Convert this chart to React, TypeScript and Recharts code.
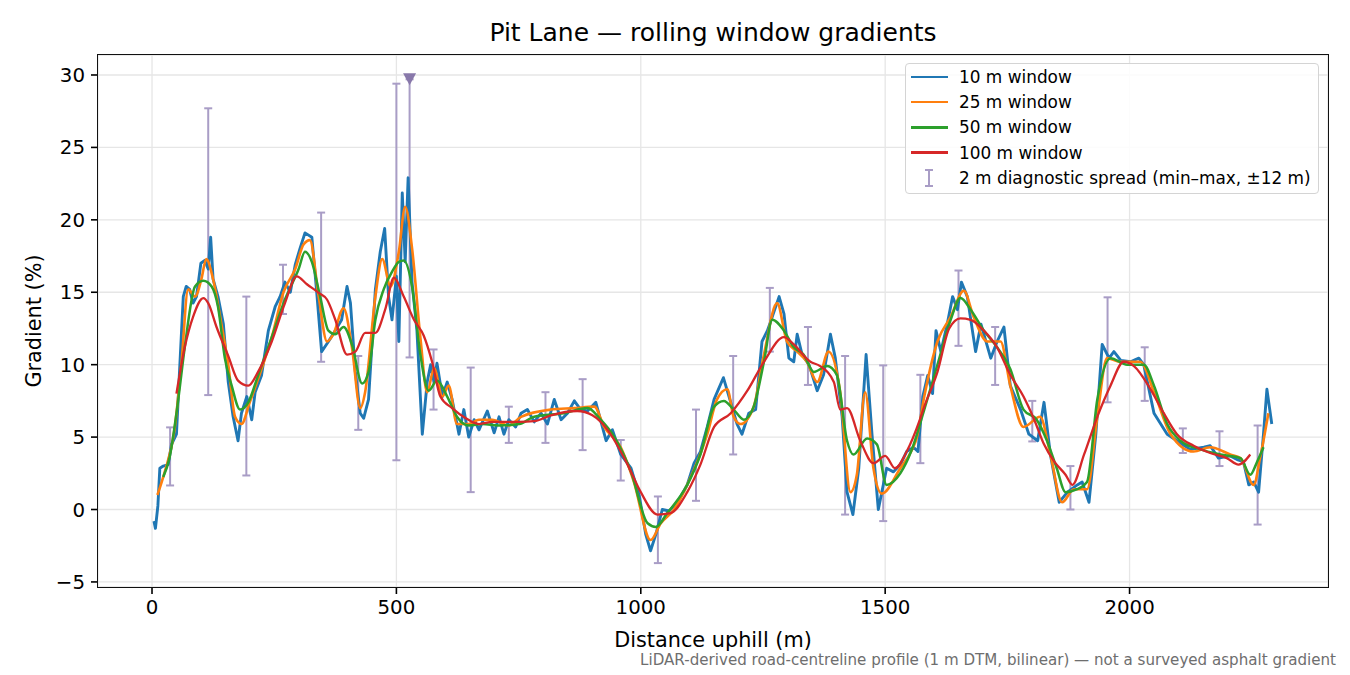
import React from 'react';
import { ComposedChart, Line, Scatter, ErrorBar, XAxis, YAxis, CartesianGrid } from 'recharts';

// 10 m window (noisy)
const dist10 = [4, 7, 12, 16, 23, 33, 40, 50, 57, 64, 70, 77, 84, 91, 100, 108, 115, 120, 125, 135, 146, 156, 166, 176, 183, 194, 204, 211, 224, 238, 252, 262, 272, 283, 293, 303, 313, 327, 337, 347, 361, 375, 388, 399, 406, 416, 426, 433, 443, 457, 467, 476, 484, 491, 500, 505, 512, 518, 524, 532, 542, 553, 563, 570, 577, 583, 594, 604, 614, 628, 638, 648, 659, 669, 686, 700, 710, 720, 730, 744, 755, 768, 782, 796, 809, 823, 837, 850, 864, 877, 891, 908, 929, 942, 959, 980, 997, 1010, 1020, 1031, 1044, 1058, 1075, 1095, 1109, 1122, 1136, 1150, 1169, 1184, 1197, 1207, 1221, 1235, 1248, 1259, 1269, 1283, 1293, 1303, 1313, 1320, 1330, 1344, 1361, 1374, 1388, 1398, 1412, 1422, 1434, 1446, 1461, 1473, 1486, 1503, 1517, 1531, 1544, 1558, 1567, 1577, 1587, 1597, 1604, 1614, 1627, 1638, 1648, 1656, 1668, 1685, 1696, 1716, 1729, 1743, 1756, 1777, 1794, 1812, 1825, 1838, 1856, 1873, 1893, 1903, 1917, 1931, 1944, 1958, 1968, 1982, 2002, 2019, 2029, 2050, 2077, 2097, 2124, 2152, 2165, 2182, 2206, 2220, 2233, 2244, 2254, 2264, 2274, 2281, 2291];
const grad10 = [-0.8, -1.3, 0.25, 2.85, 3.0, 3.1, 4.5, 5.2, 10.0, 14.7, 15.4, 15.2, 14.25, 14.7, 17.0, 17.2, 16.6, 18.8, 15.9, 14.7, 12.8, 8.8, 6.4, 4.75, 6.65, 7.8, 6.2, 8.1, 9.25, 12.35, 14.0, 14.7, 15.7, 15.0, 16.9, 18.05, 19.1, 18.8, 15.0, 10.9, 11.6, 12.35, 13.1, 15.4, 14.25, 9.5, 6.65, 6.3, 7.6, 15.2, 17.8, 19.4, 14.7, 13.1, 16.1, 11.6, 21.85, 17.1, 22.9, 15.7, 12.35, 5.2, 8.8, 10.0, 8.8, 10.1, 7.8, 8.8, 7.6, 5.2, 6.9, 5.0, 6.2, 5.5, 6.8, 5.3, 6.4, 5.2, 6.2, 5.7, 6.65, 6.9, 6.05, 6.65, 5.9, 7.6, 6.2, 6.65, 7.5, 6.9, 6.8, 7.4, 4.75, 5.5, 3.8, 2.85, 0.95, -1.7, -2.85, -1.7, 0, -0.1, 0.5, 1.7, 3.2, 4.0, 5.7, 7.6, 9.1, 7.4, 5.9, 5.2, 6.65, 6.9, 11.6, 12.35, 13.3, 14.7, 13.5, 10.45, 10.2, 12.1, 10.7, 10.0, 8.2, 9.3, 12.1, 10.45, 6.4, 1.2, -0.35, 2.85, 10.7, 5.2, 0, 2.85, 2.6, 3.1, 4.0, 4.3, 4.0, 7.8, 9.25, 8.0, 12.35, 10.9, 12.8, 14.7, 13.8, 15.7, 14.7, 10.9, 12.8, 10.45, 11.6, 12.6, 8.55, 6.9, 5.2, 4.75, 7.4, 3.8, 0.5, 1.2, 1.7, 1.9, 0.5, 5.2, 11.4, 10.45, 10.9, 10.3, 10.2, 10.45, 10.0, 6.65, 5.2, 4.75, 4.15, 4.3, 4.4, 3.55, 3.7, 3.45, 3.3, 1.7, 1.9, 1.2, 5.2, 8.3, 5.9];

// 25 m window
const dist25 = [11, 26, 46, 60, 74, 88, 101, 111, 125, 142, 156, 170, 183, 200, 217, 245, 269, 293, 310, 323, 341, 358, 371, 392, 409, 426, 436, 457, 471, 488, 505, 518, 532, 549, 563, 577, 594, 607, 624, 648, 669, 696, 730, 755, 816, 864, 905, 925, 959, 986, 1020, 1041, 1068, 1095, 1136, 1156, 1177, 1190, 1204, 1231, 1252, 1279, 1299, 1320, 1340, 1361, 1384, 1408, 1429, 1442, 1459, 1476, 1493, 1531, 1553, 1565, 1580, 1607, 1634, 1661, 1681, 1709, 1736, 1756, 1783, 1817, 1838, 1862, 1886, 1913, 1934, 1954, 1982, 2022, 2050, 2084, 2131, 2165, 2206, 2227, 2254, 2267, 2284];
const grad25 = [1.0, 2.6, 5.5, 10.0, 15.2, 14.7, 15.9, 17.3, 15.9, 12.8, 10.0, 6.4, 5.9, 7.4, 9.0, 11.9, 15.0, 16.6, 18.3, 18.6, 14.7, 11.6, 12.1, 13.9, 11.2, 7.0, 8.1, 14.7, 17.3, 15.4, 17.8, 20.9, 18.05, 11.9, 8.1, 9.75, 7.8, 8.55, 5.9, 5.9, 6.2, 6.2, 5.8, 6.4, 6.9, 7.0, 7.1, 5.7, 4.3, 1.9, -2.1, -0.95, 0, 1.7, 5.2, 7.6, 8.3, 6.4, 5.9, 7.1, 10.7, 14.25, 11.6, 10.9, 10.2, 8.8, 10.9, 8.1, 1.2, 2.4, 8.1, 2.85, 1.1, 2.85, 4.0, 5.0, 7.8, 11.6, 13.3, 15.1, 13.3, 11.6, 11.6, 8.55, 5.7, 6.4, 3.8, 0.5, 1.4, 1.4, 6.4, 10.45, 10.2, 10.2, 8.1, 5.2, 4.0, 4.3, 3.8, 3.55, 1.7, 3.55, 6.65];

// 50 m window
const dist50 = [23, 36, 53, 67, 88, 105, 122, 135, 149, 163, 180, 197, 217, 245, 272, 300, 313, 327, 344, 361, 375, 392, 409, 430, 443, 457, 474, 491, 505, 515, 532, 549, 566, 583, 604, 624, 648, 676, 710, 751, 782, 843, 891, 918, 946, 980, 1014, 1031, 1054, 1095, 1122, 1150, 1170, 1190, 1211, 1231, 1252, 1269, 1293, 1313, 1333, 1354, 1381, 1401, 1422, 1435, 1463, 1483, 1503, 1531, 1553, 1580, 1607, 1634, 1654, 1675, 1702, 1729, 1756, 1783, 1810, 1831, 1851, 1869, 1893, 1913, 1934, 1961, 1995, 2029, 2050, 2077, 2104, 2145, 2186, 2227, 2247, 2261, 2274];
const grad50 = [2.25, 3.6, 7.4, 11.2, 15.4, 15.8, 15.4, 14.0, 10.45, 8.55, 6.9, 7.4, 9.25, 11.9, 14.5, 16.6, 17.8, 17.1, 14.7, 12.35, 12.1, 12.6, 11.4, 8.7, 9.5, 13.1, 15.2, 16.4, 17.1, 17.2, 15.4, 10.7, 8.2, 8.9, 7.8, 6.4, 5.8, 5.9, 5.8, 5.9, 6.4, 6.65, 7.0, 6.2, 5.0, 2.6, -0.95, -1.2, -0.25, 1.7, 3.8, 7.1, 7.5, 6.9, 6.2, 7.1, 10.2, 13.1, 12.35, 11.2, 10.7, 9.5, 9.9, 9.3, 4.75, 3.8, 4.9, 4.5, 1.7, 2.5, 4.0, 6.9, 10.0, 13.1, 14.6, 13.8, 12.35, 11.2, 9.7, 6.9, 6.2, 4.75, 2.85, 1.2, 1.4, 1.9, 7.6, 10.45, 10.0, 10.0, 8.55, 5.9, 4.75, 4.15, 3.8, 3.55, 2.4, 3.3, 4.3];

// 100 m window
const dist100 = [50, 67, 84, 105, 115, 132, 156, 176, 197, 217, 245, 272, 296, 317, 341, 358, 375, 399, 416, 436, 457, 477, 495, 515, 536, 556, 573, 590, 614, 642, 669, 696, 751, 782, 816, 870, 901, 932, 973, 1000, 1034, 1061, 1095, 1122, 1150, 1184, 1218, 1252, 1293, 1313, 1347, 1367, 1395, 1408, 1422, 1449, 1476, 1500, 1520, 1544, 1571, 1580, 1607, 1631, 1654, 1675, 1702, 1729, 1756, 1783, 1805, 1825, 1846, 1869, 1883, 1907, 1934, 1961, 1988, 2009, 2043, 2070, 2097, 2131, 2165, 2199, 2223, 2247];
const grad100 = [8.0, 11.2, 13.3, 14.6, 14.25, 12.6, 10.6, 8.9, 8.55, 9.5, 11.6, 14.25, 16.1, 15.55, 14.96, 14.5, 13.1, 10.7, 10.9, 12.2, 12.2, 13.8, 16.0, 14.7, 13.1, 12.0, 10.2, 7.8, 7.0, 6.3, 5.9, 6.05, 6.05, 6.1, 6.5, 6.8, 6.5, 5.5, 3.1, 1.2, -0.35, -0.25, 1.2, 3.1, 5.7, 6.65, 8.2, 10.2, 11.9, 11.4, 10.2, 9.9, 8.8, 6.9, 7.0, 4.75, 3.2, 3.7, 2.85, 4.0, 6.2, 7.1, 9.5, 12.5, 13.2, 13.1, 12.35, 11.2, 9.3, 7.8, 6.2, 4.5, 3.3, 2.4, 1.7, 3.8, 6.4, 8.55, 10.2, 9.9, 8.3, 6.65, 5.2, 4.4, 3.9, 3.55, 3.1, 3.8];

// 2 m diagnostic spread (min / max within ±12 m)
const spreadAt = [37, 115, 193, 268, 346, 422, 500, 527, 576, 652, 730, 805, 881, 959, 1035, 1113, 1189, 1264, 1342, 1418, 1496, 1572, 1650, 1725, 1801, 1879, 1955, 2031, 2109, 2184, 2262];
const spreadLo = [1.66, 7.9, 2.35, 13.5, 10.2, 5.5, 3.4, 10.5, 6.9, 1.2, 4.6, 4.6, 4.1, 2.0, -3.7, 0.6, 3.8, 10.9, 8.6, -0.35, -0.8, 3.2, 11.3, 8.6, 4.7, 0.0, 7.4, 7.5, 3.9, 3.0, -1.04];
const spreadHi = [5.67, 27.7, 14.7, 16.9, 20.5, 10.6, 29.4, 45.0, 11.05, 9.8, 7.1, 8.1, 9.0, 4.8, 0.9, 6.9, 10.6, 15.3, 12.6, 10.6, 9.95, 9.3, 16.5, 12.6, 7.5, 3.0, 14.65, 11.2, 5.6, 5.4, 5.8];

// spread running off the top of the axis
const clippedAt = [527];
const clippedMark = [29.7];

const xTicks = [0, 500, 1000, 1500, 2000];
const yTicks = [-5, 0, 5, 10, 15, 20, 25, 30];
const xRange = [-110.5, 2406];
const yRange = [-5.35, 31.38];

const zip = (xs: number[], ys: number[]) => xs.map((x, i) => ({ x, y: ys[i] }));

const series = [
  { name: '10 m window', data: zip(dist10, grad10), color: '#1f77b4', width: 2.9, curve: 'linear' },
  { name: '25 m window', data: zip(dist25, grad25), color: '#ff7f0e', width: 2.6, curve: 'monotone' },
  { name: '50 m window', data: zip(dist50, grad50), color: '#2ca02c', width: 2.5, curve: 'monotone' },
  { name: '100 m window', data: zip(dist100, grad100), color: '#d62728', width: 2.3, curve: 'monotone' },
];

// the bar that leaves the axis stops at the marker, like the original
const spreadData = spreadAt.map((x, i) => {
  const hi = Math.min(spreadHi[i], clippedMark[0]);
  const mid = (spreadLo[i] + hi) / 2;
  return { x, mid, err: [mid - spreadLo[i], hi - mid] };
});
const clippedData = zip(clippedAt, clippedMark);

const FONT = '"DejaVu Sans", sans-serif';
const SPREAD = '#a99dc6';

const DownTriangle = (props: any) => {
  const { cx, cy } = props;
  return <path d={`M${cx - 6.5},${cy - 6} L${cx + 6.5},${cy - 6} L${cx},${cy + 6} Z`} fill="#8878aa" />;
};

const Legendbox = () => (
  <div
    style={{
      position: 'absolute', left: 905, top: 63, width: 414, height: 131, boxSizing: 'border-box',
      border: '1.3px solid #d4d4d4', borderRadius: 4, background: 'rgba(255,255,255,0.85)',
      fontFamily: FONT, fontSize: 16.9, color: '#000',
    }}
  >
    {series.map((s, i) => (
      <div key={s.name} style={{ position: 'absolute', left: 0, top: 2 + i * 25.2, height: 22, display: 'flex', alignItems: 'center' }}>
        <div style={{ marginLeft: 5, width: 37, height: 2.6, background: s.color }} />
        <span style={{ marginLeft: 11, whiteSpace: 'nowrap' }}>{s.name}</span>
      </div>
    ))}
    <div style={{ position: 'absolute', left: 0, top: 2 + 4 * 25.2, height: 22, display: 'flex', alignItems: 'center' }}>
      <svg width={42} height={22}>
        <line x1={23} x2={23} y1={3} y2={19} stroke={SPREAD} strokeWidth={2} />
        <line x1={19} x2={27} y1={3} y2={3} stroke={SPREAD} strokeWidth={2} />
        <line x1={19} x2={27} y1={19} y2={19} stroke={SPREAD} strokeWidth={2} />
      </svg>
      <span style={{ marginLeft: 11, whiteSpace: 'nowrap' }}>2 m diagnostic spread (min–max, ±12 m)</span>
    </div>
  </div>
);

export default function App() {
  return (
    <div style={{ position: 'absolute', left: 0, top: 0, width: 1350, height: 675, background: '#fff', fontFamily: FONT }}>
      <div style={{ position: 'absolute', left: 98, width: 1230, top: 18, textAlign: 'center', fontSize: 25, lineHeight: '30px', whiteSpace: 'nowrap' }}>
        Pit Lane — rolling window gradients
      </div>
      <ComposedChart width={1350} height={675} margin={{ top: 55, right: 22, left: 0, bottom: 0 }}>
        <CartesianGrid stroke="#e6e6e6" strokeWidth={1.3} />
        <XAxis
          dataKey="x"
          type="number"
          domain={xRange}
          ticks={xTicks}
          allowDataOverflow
          height={88}
          axisLine={false}
          tickSize={7}
          tickMargin={6}
          tickLine={{ stroke: '#000', strokeWidth: 1.6 }}
          tick={{ fill: '#000', fontSize: 19.8, fontFamily: FONT }}
          label={{ value: 'Distance uphill (m)', position: 'insideBottom', offset: 28, fill: '#000', fontSize: 20.8, fontFamily: FONT }}
        />
        <YAxis
          type="number"
          domain={yRange}
          ticks={yTicks}
          allowDataOverflow
          width={98}
          axisLine={false}
          tickSize={7}
          tickMargin={6}
          tickLine={{ stroke: '#000', strokeWidth: 1.6 }}
          tick={{ fill: '#000', fontSize: 19.8, fontFamily: FONT }}
          tickFormatter={(v: number) => (v < 0 ? `\u2212${Math.abs(v)}` : `${v}`)}
          label={{ value: 'Gradient (%)', angle: -90, position: 'insideLeft', offset: 34, fill: '#000', fontSize: 20.8, fontFamily: FONT, style: { textAnchor: 'middle' } }}
        />
        <Scatter data={spreadData} dataKey="mid" shape={() => <g />} isAnimationActive={false} legendType="none">
          <ErrorBar dataKey="err" direction="y" width={4} stroke={SPREAD} strokeWidth={2} isAnimationActive={false} />
        </Scatter>
        {series.map((s) => (
          <Line
            key={s.name}
            data={s.data}
            dataKey="y"
            name={s.name}
            type={s.curve as any}
            stroke={s.color}
            strokeWidth={s.width}
            strokeLinejoin="round"
            dot={false}
            activeDot={false}
            isAnimationActive={false}
          />
        ))}
        <Scatter data={clippedData} dataKey="y" shape={DownTriangle} isAnimationActive={false} legendType="none" />
      </ComposedChart>
      <div style={{ position: 'absolute', left: 97.2, top: 54.2, width: 1231.6, height: 533.6, boxSizing: 'border-box', border: '1.6px solid #111', pointerEvents: 'none' }} />
      <Legendbox />
      <div style={{ position: 'absolute', right: 14, top: 651, fontSize: 15.1, color: '#6e6e6e', whiteSpace: 'nowrap' }}>
        LiDAR-derived road-centreline profile (1 m DTM, bilinear) — not a surveyed asphalt gradient
      </div>
    </div>
  );
}
